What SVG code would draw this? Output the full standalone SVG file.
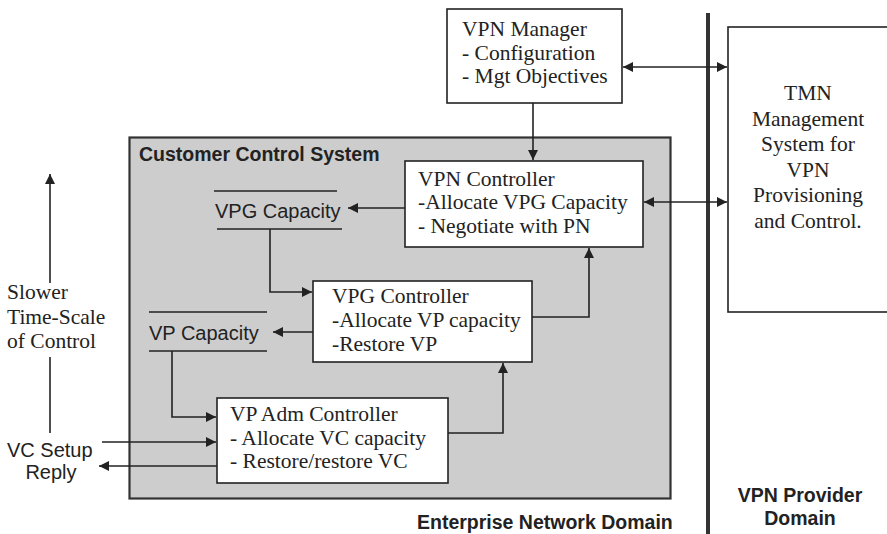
<svg xmlns="http://www.w3.org/2000/svg" width="887" height="534" viewBox="0 0 887 534">
<style>
.box{fill:#fff;stroke:#222;stroke-width:1.6}
.ser{font-family:"Liberation Serif","Times New Roman",serif;font-size:21.5px;fill:#222}
.sans{font-family:"Liberation Sans",Arial,sans-serif;font-size:20px;fill:#222}
.bold{font-family:"Liberation Sans",Arial,sans-serif;font-size:19.5px;font-weight:bold;fill:#222}
.ln{fill:none;stroke:#222;stroke-width:1.6}
</style>
<defs>
<marker id="ah" viewBox="0 0 10 10" refX="10" refY="5" markerWidth="11" markerHeight="10" markerUnits="userSpaceOnUse" orient="auto-start-reverse">
<path d="M0,0 L10,5 L0,10 z" fill="#222"/>
</marker>
</defs>
<rect width="887" height="534" fill="#fff"/>

<g id="enterprise-domain">
<rect x="129.5" y="137.5" width="541" height="361" fill="#cdcdcd" stroke="#333" stroke-width="2.2"/>
<text class="bold" x="139" y="161">Customer Control System</text>
<text class="bold" x="417" y="529">Enterprise Network Domain</text>
</g>

<g id="divider">
<line x1="708" y1="13" x2="708" y2="534" stroke="#333" stroke-width="4"/>
<text class="bold" x="800" y="502" text-anchor="middle">VPN Provider</text>
<text class="bold" x="800" y="525" text-anchor="middle">Domain</text>
</g>

<g id="vpn-manager">
<rect class="box" x="447" y="9" width="175" height="94"/>
<text class="ser" x="462" y="36">VPN Manager</text>
<text class="ser" x="462" y="60">- Configuration</text>
<text class="ser" x="462" y="83">- Mgt Objectives</text>
</g>

<g id="tmn">
<rect class="box" x="728" y="27" width="170" height="285"/>
<text class="ser" x="808" y="100" text-anchor="middle">TMN</text>
<text class="ser" x="808" y="125.5" text-anchor="middle">Management</text>
<text class="ser" x="808" y="151" text-anchor="middle">System for</text>
<text class="ser" x="808" y="176.5" text-anchor="middle">VPN</text>
<text class="ser" x="808" y="202" text-anchor="middle">Provisioning</text>
<text class="ser" x="808" y="227.5" text-anchor="middle">and Control.</text>
</g>

<g id="vpn-controller">
<rect class="box" x="405" y="161" width="238" height="86"/>
<text class="ser" x="418" y="186">VPN Controller</text>
<text class="ser" x="418" y="209">-Allocate VPG Capacity</text>
<text class="ser" x="418" y="233">- Negotiate with PN</text>
</g>

<g id="vpg-capacity">
<line class="ln" x1="214" y1="191" x2="337" y2="191"/>
<line class="ln" x1="217" y1="229" x2="342" y2="229"/>
<text class="sans" x="215" y="218">VPG Capacity</text>
</g>

<g id="vpg-controller">
<rect class="box" x="313" y="281" width="219" height="81"/>
<text class="ser" x="332" y="303">VPG Controller</text>
<text class="ser" x="332" y="327">-Allocate VP capacity</text>
<text class="ser" x="332" y="351">-Restore VP</text>
</g>

<g id="vp-capacity">
<line class="ln" x1="149" y1="312" x2="267" y2="312"/>
<line class="ln" x1="149" y1="351" x2="267" y2="351"/>
<text class="sans" x="149" y="340">VP Capacity</text>
</g>

<g id="vp-adm-controller">
<rect class="box" x="217" y="398" width="231" height="85"/>
<text class="ser" x="230" y="421">VP Adm Controller</text>
<text class="ser" x="230" y="445">- Allocate VC capacity</text>
<text class="ser" x="230" y="468">- Restore/restore VC</text>
</g>

<g id="time-scale">
<text class="ser" x="7" y="299">Slower</text>
<text class="ser" x="7" y="324">Time-Scale</text>
<text class="ser" x="7" y="348">of Control</text>
</g>

<g id="vc-labels">
<text class="sans" x="7" y="457">VC Setup</text>
<text class="sans" x="51" y="479" text-anchor="middle">Reply</text>
</g>

<g id="connectors">
<line class="ln" x1="533" y1="103" x2="533" y2="160" marker-end="url(#ah)"/>
<line class="ln" x1="623" y1="67" x2="727" y2="67" marker-start="url(#ah)" marker-end="url(#ah)"/>
<line class="ln" x1="644" y1="202" x2="727" y2="202" marker-start="url(#ah)" marker-end="url(#ah)"/>
<line class="ln" x1="405" y1="208" x2="348" y2="208" marker-end="url(#ah)"/>
<polyline class="ln" points="270,229 270,292 312,292" marker-end="url(#ah)"/>
<polyline class="ln" points="532,317 589,317 589,248" marker-end="url(#ah)"/>
<line class="ln" x1="313" y1="332" x2="273" y2="332" marker-end="url(#ah)"/>
<polyline class="ln" points="172,351 172,417 216,417" marker-end="url(#ah)"/>
<polyline class="ln" points="448,433 503,433 503,363" marker-end="url(#ah)"/>
<line class="ln" x1="102" y1="442" x2="216" y2="442" marker-end="url(#ah)"/>
<line class="ln" x1="217" y1="466" x2="99" y2="466" marker-end="url(#ah)"/>
<line class="ln" x1="50" y1="283" x2="50" y2="174" marker-end="url(#ah)"/>
<line class="ln" x1="50" y1="357" x2="50" y2="433"/>
</g>
</svg>
